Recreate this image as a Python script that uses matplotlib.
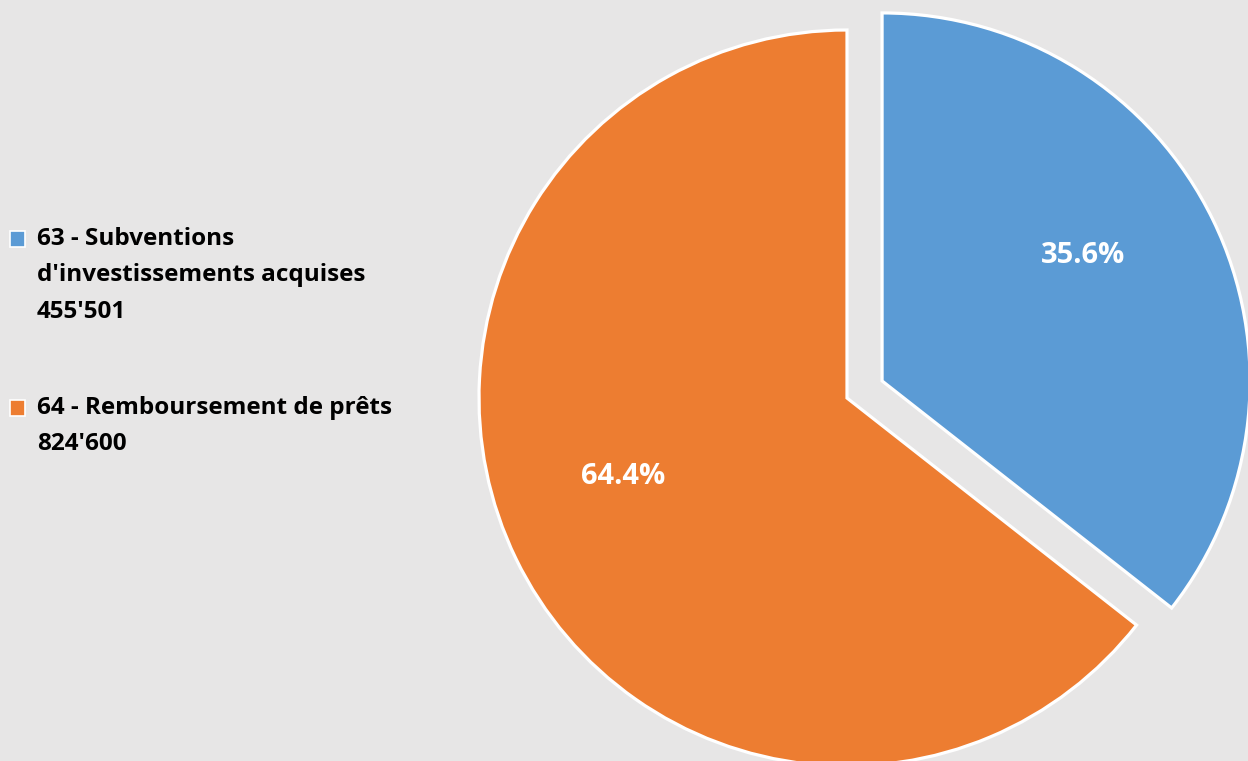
import numpy as np
import matplotlib.pyplot as plt
from matplotlib.patches import Patch

# data
labels = ["63 - Subventions\nd'investissements acquises\n455'501",
          "64 - Remboursement de prêts\n824'600"]
values = [455501, 824600]
colors = ['#5B9BD5', '#ED7D31']
explode = [0.106, 0]

plt.rcParams['font.family'] = ['Open Sans', 'DejaVu Sans']
bg = '#E7E6E6'

W, H = 1248, 761
fig = plt.figure(figsize=(W / 100, H / 100), dpi=100)
fig.patch.set_facecolor(bg)

# pie centre and radius in pixels
cx, cy, r = 847, H - 398, 368
ax = fig.add_axes([(cx - r) / W, (cy - r) / H, 2 * r / W, 2 * r / H])
ax.set_facecolor(bg)
ax.axis('off')

wedges, texts, autotexts = ax.pie(values, colors=colors, explode=explode,
                                  startangle=90, counterclock=False,
                                  autopct='%1.1f%%', pctdistance=0.65,
                                  wedgeprops=dict(edgecolor='white', linewidth=2.3),
                                  textprops=dict(color='white', fontsize=21,
                                                 fontweight='bold'))
ax.set_xlim(-1, 1)
ax.set_ylim(-1, 1)
for w in wedges:
    w.set_clip_on(False)

# label placement similar to the original
label_angles = [32, 199.3]
for t, w, a in zip(autotexts, wedges, label_angles):
    c = w.center
    t.set_position((c[0] + 0.645 * np.cos(np.radians(a)),
                    c[1] + 0.645 * np.sin(np.radians(a))))

fs = 17.5
handles = [Patch(facecolor=c, edgecolor='white', linewidth=1.2) for c in colors]
leg = fig.legend(handles, labels, loc='upper left',
                 bbox_to_anchor=(0.0, 1 - 217 / H),
                 frameon=False, prop=dict(size=fs, weight='bold'),
                 handlelength=0.62, handleheight=0.62, handletextpad=0.5,
                 labelspacing=2.95, borderaxespad=0)
line_px = 37
for t, h, lab in zip(leg.get_texts(), leg.legend_handles, labels):
    t.set_linespacing(1.70)
    t.set_color('black')
    # move the square up to the first line of its entry
    n = lab.count('\n')
    h.set_y(h.get_y() + n / 2 * line_px * 0.72)

fig.savefig('out.png', dpi=100, facecolor=bg)
